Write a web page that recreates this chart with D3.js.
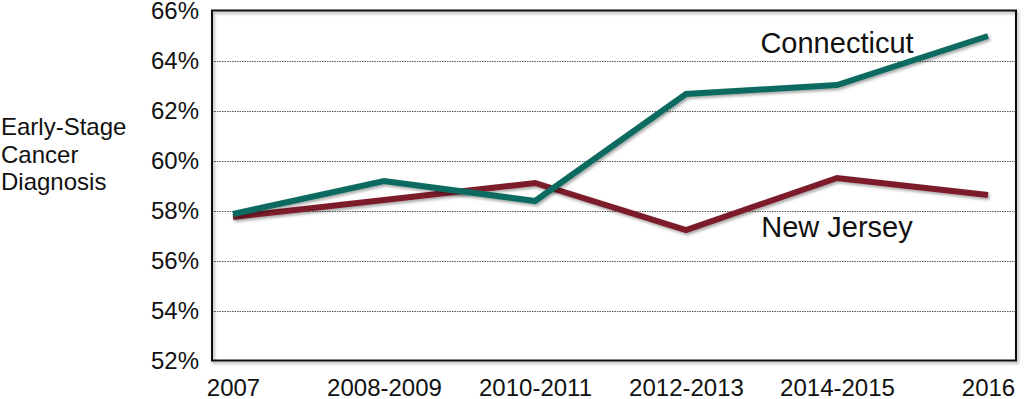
<!DOCTYPE html>
<html><head><meta charset="utf-8">
<script src="https://cdn.jsdelivr.net/npm/d3@7/dist/d3.min.js"></script>
<style>
html,body{margin:0;padding:0;background:#fff;}
svg{display:block;font-family:"Liberation Sans",Arial,Helvetica,sans-serif;}
</style></head>
<body>
<svg id="chart" width="1024" height="399"></svg>
<script>
const categories = ["2007","2008-2009","2010-2011","2012-2013","2014-2015","2016"];
const connecticut = [57.86, 59.18, 58.38, 62.66, 63.02, 64.98];
const newJersey = [57.74, 58.42, 59.10, 57.22, 59.30, 58.62];
const yTicks = [52,54,56,58,60,62,64,66];
const yTitle = ["Early-Stage","Cancer","Diagnosis"];

const svg = d3.select("#chart");
const defs = svg.append("defs");
const f = defs.append("filter").attr("id","shadow").attr("x","-5%").attr("y","-20%").attr("width","110%").attr("height","140%");
f.append("feDropShadow").attr("dx",1.5).attr("dy",2).attr("stdDeviation",1.5).attr("flood-color","#000").attr("flood-opacity",0.35);

const plot = {left:212, right:1016, top:10.5, bottom:360.5};
const x = d3.scalePoint().domain(categories).range([233, 988]);
const y = d3.scaleLinear().domain([52,66]).range([plot.bottom, plot.top]);

// gridlines
svg.append("g").selectAll("line").data(yTicks.filter(t=>t>52 && t<66)).join("line")
  .attr("x1",plot.left).attr("x2",plot.right)
  .attr("y1",d=>Math.round(y(d))+0.5).attr("y2",d=>Math.round(y(d))+0.5)
  .attr("stroke","#555").attr("stroke-width",1).attr("stroke-dasharray","1.5,1");

// frame
svg.append("rect").attr("x",plot.left).attr("y",plot.top).attr("width",plot.right-plot.left).attr("height",plot.bottom-plot.top)
  .attr("fill","none").attr("stroke","#111").attr("stroke-width",2).attr("filter","url(#shadow)");

// y axis labels
const yAxis = d3.axisLeft(y).tickValues(yTicks).tickFormat(d=>d+"%").tickSize(0).tickPadding(13);
const gy = svg.append("g").attr("transform",`translate(${plot.left},0)`).call(yAxis);
gy.select(".domain").remove();
gy.selectAll("text").attr("font-size",24).attr("fill","#111").attr("font-family","Liberation Sans, Arial, sans-serif");

// x axis labels
const xAxis = d3.axisBottom(x).tickSize(0).tickPadding(0);
const gx = svg.append("g").attr("transform",`translate(0,${plot.bottom})`).call(xAxis);
gx.select(".domain").remove();
gx.selectAll("text").attr("font-size",24).attr("fill","#111").attr("dy",null).attr("y",35).attr("font-family","Liberation Sans, Arial, sans-serif");

// y title
svg.append("text").attr("x",1).attr("font-size",24).attr("fill","#111")
  .selectAll("tspan").data(yTitle).join("tspan")
  .attr("x",1).attr("y",(d,i)=>135+i*27.5).text(d=>d);

// lines
const line = d3.line().x((d,i)=>x(categories[i])).y(d=>y(d));
svg.append("path").datum(newJersey).attr("d",line).attr("fill","none")
  .attr("stroke","#7b1f2c").attr("stroke-width",6).attr("stroke-linejoin","miter").attr("filter","url(#shadow)");
svg.append("path").datum(connecticut).attr("d",line).attr("fill","none")
  .attr("stroke","#0d6b60").attr("stroke-width",6).attr("stroke-linejoin","miter").attr("filter","url(#shadow)");

// series labels
svg.append("text").attr("x",837).attr("y",53).attr("text-anchor","middle").attr("font-size",29).attr("fill","#111").text("Connecticut");
svg.append("text").attr("x",837).attr("y",237).attr("text-anchor","middle").attr("font-size",29).attr("fill","#111").text("New Jersey");
</script>
</body></html>
